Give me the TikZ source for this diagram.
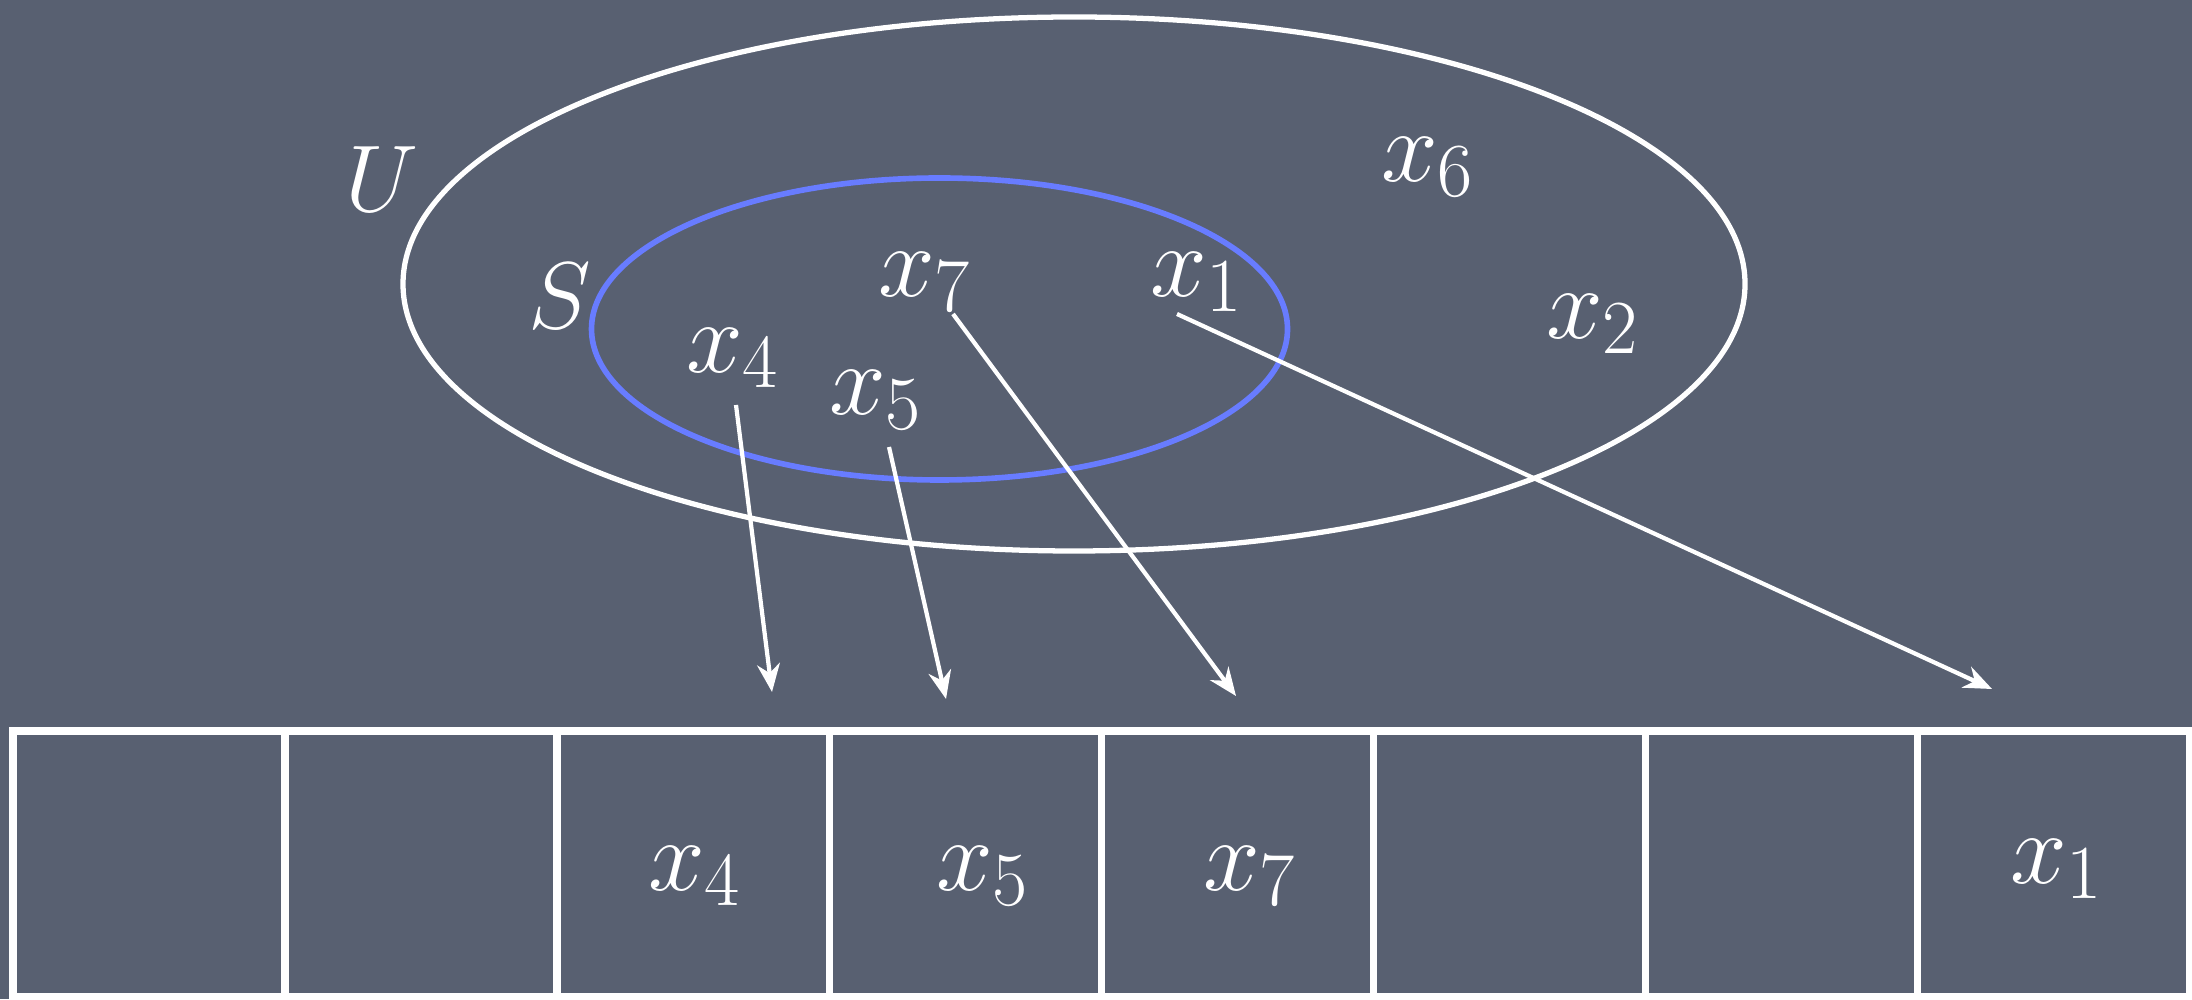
\RequirePackage{fix-cm}
\documentclass[tikz,border=0pt]{standalone}
\usetikzlibrary{arrows.meta}

\definecolor{slate}{RGB}{88,96,113}
\definecolor{setBlue}{RGB}{104,124,255}
\renewcommand\defaultscriptratio{.75}

\begin{document}
\begin{tikzpicture}[>={Stealth[length=8pt,width=6.5pt]}]

% --- Styles ---
\tikzset{
    universeSet/.style={
        draw=white,
        line width=1.5pt
    },
    subSet/.style={
        draw=setBlue,
        line width=1.6pt
    },
    tableCell/.style={
        draw=white,
        line width=2pt,
        minimum width=2.72cm,
        minimum height=2.66cm,
        inner sep=0pt
    },
    setLabel/.style={
        text=white,
        font=\fontsize{27}{32}\selectfont
    },
    elemLabel/.style={
        text=white,
        font=\fontsize{29}{35}\selectfont
    },
    mapArrow/.style={
        ->,
        draw=white,
        line width=1.2pt
    }
}

% Achtergrond
\fill[slate] (0,0) rectangle (21.92,9.99);
\useasboundingbox (0,0) rectangle (21.92,9.99);

% =========================================================
% Verzamelingen U en S
% =========================================================

\draw[universeSet] (10.74,7.15) ellipse (6.71cm and 2.67cm);
\draw[subSet] (9.395,6.70) ellipse (3.48cm and 1.51cm);

% Labels
\node[setLabel] (setU) at (3.82,8.20) {$U$};
\node[setLabel] (setS) at (5.60,7.03) {$S$};
\node[elemLabel] (lx7) at (9.25,7.17) {$x_7$};
\node[elemLabel] (lx1) at (11.97,7.17) {$x_1$};
\node[elemLabel] (lx6) at (14.28,8.32) {$x_6$};
\node[elemLabel] (lx2) at (15.93,6.75) {$x_2$};
\node[elemLabel] (lx4) at (7.33,6.41) {$x_4$};
\node[elemLabel] (lx5) at (8.76,5.99) {$x_5$};

% =========================================================
% Tabel met 8 vakjes
% =========================================================

\node[tableCell] (cell1) at (1.49,1.35) {};
\node[tableCell] (cell2) at (4.21,1.35) {};
\node[tableCell] (cell3) at (6.93,1.35) {};
\node[tableCell] (cell4) at (9.65,1.35) {};
\node[tableCell] (cell5) at (12.37,1.35) {};
\node[tableCell] (cell6) at (15.09,1.35) {};
\node[tableCell] (cell7) at (17.81,1.35) {};
\node[tableCell] (cell8) at (20.53,1.35) {};

% Inhoud van de vakjes
\node[elemLabel] (tx4) at (6.95,1.23) {$x_4$};
\node[elemLabel] (tx5) at (9.83,1.23) {$x_5$};
\node[elemLabel] (tx7) at (12.50,1.23) {$x_7$};
\node[elemLabel] (tx1) at (20.57,1.30) {$x_1$};

% Eindpunten van de pijlen
\coordinate (tip4) at (7.72,3.07);
\coordinate (tip5) at (9.46,3.00);
\coordinate (tip7) at (12.36,3.03);
\coordinate (tip1) at (19.92,3.10);

% Pijlen
\draw[mapArrow] ([xshift=0.3mm,yshift=-0.5mm]lx4.south) -- (tip4);
\draw[mapArrow] ([xshift=1.3mm,yshift=-0.5mm]lx5.south) -- (tip5);
\draw[mapArrow] ([xshift=2.8mm,yshift=1mm]lx7.south) -- (tip7);
\draw[mapArrow] ([xshift=-2mm,yshift=1mm]lx1.south) -- (tip1);

\end{tikzpicture}
\end{document}
